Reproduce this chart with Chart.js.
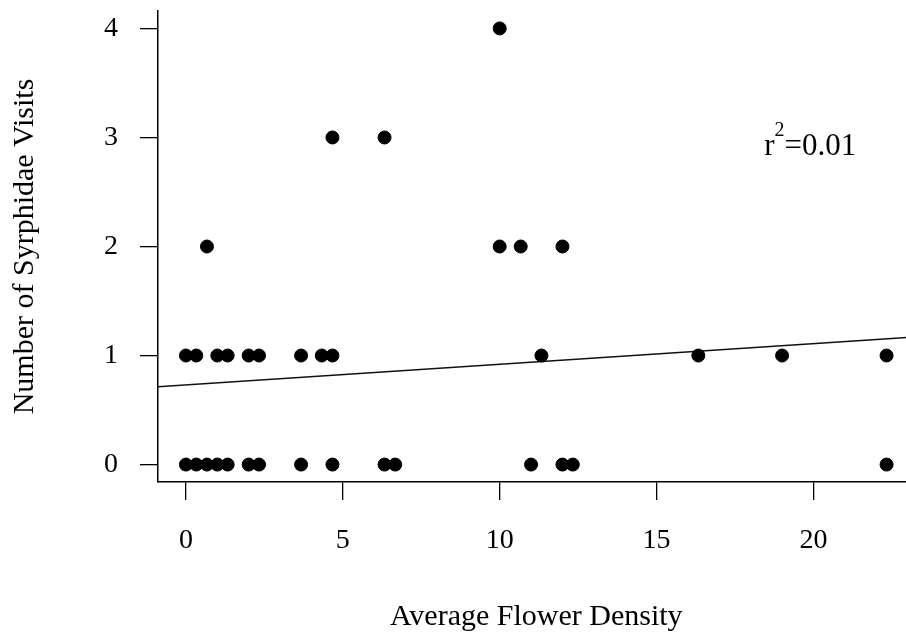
<!DOCTYPE html>
<html>
<head>
<meta charset="utf-8">
<title>Syrphidae visits vs flower density</title>
<script src="https://cdn.jsdelivr.net/npm/chart.js@4.4.1/dist/chart.umd.min.js"></script>
<style>
  html, body { margin: 0; padding: 0; background: #fff; overflow: hidden; }
  /* plot region runs a little past the right edge, like the cropped R figure */
  #wrap { position: relative; width: 922px; height: 636px; }
</style>
</head>
<body>
<div id="wrap"><canvas id="chart"></canvas></div>
<script>
// one entry per plot: average flower density and syrphid visits counted
const flowerDensity = [
  0, 0.33, 0.67, 1, 1.33, 2, 2.33, 3.67, 4.67, 6.33, 6.67, 11, 12, 12.33, 22.33,
  0, 0.33, 1, 1.33, 2, 2.33, 3.67, 4.33, 4.67, 11.33, 16.33, 19, 22.33,
  0.67, 10, 10.67, 12,
  4.67, 6.33,
  10,
]
const syrphidVisits = [
  0, 0, 0, 0, 0, 0, 0, 0, 0, 0, 0, 0, 0, 0, 0,
  1, 1, 1, 1, 1, 1, 1, 1, 1, 1, 1, 1, 1,
  2, 2, 2, 2,
  3, 3,
  4,
]

const xTicks = [0, 5, 10, 15, 20]
const yTicks = [0, 1, 2, 3, 4]
const xRange = [-0.89, 23.22]
const yRange = [-0.16, 4.16]

// linear fit (abline)
const fitIntercept = 0.73
const fitSlope = 0.0189
const r2Label = { x: 19.9, y: 2.9, text: '=0.01' }

const SERIF = '"Liberation Serif", "Times New Roman", serif'
const INK = '#000'

const points = flowerDensity.map((x, i) => ({ x, y: syrphidVisits[i] }))
const fitLine = xRange.map(x => ({ x, y: fitIntercept + fitSlope * x }))

// r^2 label with a superscript, placed in data units
const r2Plugin = {
  id: 'r2Label',
  afterDatasetsDraw(chart) {
    const { ctx, scales } = chart
    const cx = scales.x.getPixelForValue(r2Label.x)
    const cy = scales.y.getPixelForValue(r2Label.y)
    const big = `31px ${SERIF}`
    const small = `20px ${SERIF}`
    ctx.save()
    ctx.fillStyle = INK
    ctx.textBaseline = 'alphabetic'
    ctx.textAlign = 'left'
    ctx.font = big
    const wr = ctx.measureText('r').width
    const wt = ctx.measureText(r2Label.text).width
    ctx.font = small
    const w2 = ctx.measureText('2').width
    let x = cx - (wr + w2 + wt) / 2
    const base = cy + 7
    ctx.font = big
    ctx.fillText('r', x, base)
    x += wr
    ctx.font = small
    ctx.fillText('2', x, base - 19)
    x += w2
    ctx.font = big
    ctx.fillText(r2Label.text, x, base)
    ctx.restore()
  },
}

new Chart(document.getElementById('chart'), {
  type: 'scatter',
  data: {
    datasets: [
      {
        label: 'visits',
        data: points,
        backgroundColor: INK,
        borderColor: INK,
        borderWidth: 1,
        pointRadius: 6.5,
        pointHoverRadius: 6.5,
        clip: false,
      },
      {
        type: 'line',
        label: 'fit',
        data: fitLine,
        borderColor: '#111',
        borderWidth: 1.5,
        pointRadius: 0,
        fill: false,
        tension: 0,
      },
    ],
  },
  options: {
    responsive: true,
    maintainAspectRatio: false,
    animation: false,
    layout: { padding: { top: 11, right: 0, bottom: 0, left: 0 } },
    plugins: {
      legend: { display: false },
      tooltip: { enabled: false },
    },
    scales: {
      x: {
        type: 'linear',
        min: xRange[0],
        max: xRange[1],
        afterBuildTicks: s => { s.ticks = xTicks.map(value => ({ value })) },
        afterFit: s => { s.height = 154 },
        grid: { drawOnChartArea: false, drawTicks: true, tickLength: 18, color: INK, lineWidth: 1.3 },
        border: { display: true, color: INK, width: 1.5 },
        ticks: {
          color: INK,
          padding: 24,
          maxRotation: 0,
          font: { family: SERIF, size: 28 },
        },
        title: {
          display: true,
          text: 'Average Flower Density',
          color: INK,
          font: { family: SERIF, size: 30 },
          padding: { top: 0, bottom: 1 },
        },
      },
      y: {
        type: 'linear',
        min: yRange[0],
        max: yRange[1],
        afterBuildTicks: s => { s.ticks = yTicks.map(value => ({ value })) },
        afterFit: s => {
          s.width = 158
          // labels sit inside the plot height, so no extra room above/below
          s.paddingTop = 0
          s.paddingBottom = 0
        },
        grid: { drawOnChartArea: false, drawTicks: true, tickLength: 18, color: INK, lineWidth: 1.3 },
        border: { display: true, color: INK, width: 1.5 },
        ticks: {
          color: INK,
          padding: 22,
          font: { family: SERIF, size: 28 },
        },
        title: {
          display: true,
          text: 'Number of Syrphidae Visits',
          color: INK,
          font: { family: SERIF, size: 30 },
          padding: { top: 7, bottom: 0 },
        },
      },
    },
  },
  plugins: [r2Plugin],
})
</script>
</body>
</html>
